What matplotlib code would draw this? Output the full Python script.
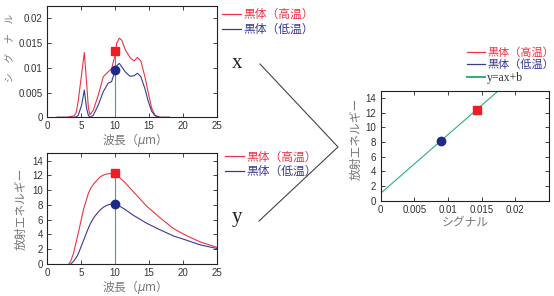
import matplotlib
matplotlib.use("Agg")
import matplotlib.pyplot as plt
from matplotlib.lines import Line2D

plt.rcParams["font.family"] = ["Liberation Sans", "Noto Sans CJK JP", "DejaVu Sans"]
plt.rcParams["axes.unicode_minus"] = False

RED = "#ee3344"
BLUE = "#3a3a95"
GREEN = "#2eae78"
MRED = "#ee1c24"
MBLUE = "#1c2a88"
GRAY = "#777777"

# シグナル (上段)
sig_wl = [1.5, 3.0, 4.0, 4.3, 4.6, 5.1, 5.49, 5.8, 6.08, 6.32, 6.8, 7.55, 8.28, 9.0, 9.5,
          10.0, 10.25, 10.64, 11.0, 11.5, 12.2, 12.8, 13.3, 13.8, 14.4, 14.9, 15.4, 15.9, 16.6, 18.0]
sig_high = [0.0, 0.0, 0.0003, 0.001, 0.0034, 0.0088, 0.0131, 0.0075, 0.002, 0.0005, 0.0014, 0.0045,
            0.0082, 0.0092, 0.0098, 0.0125, 0.015, 0.016, 0.0156, 0.0137, 0.0121, 0.0114, 0.0121,
            0.0114, 0.0082, 0.0049, 0.0018, 0.0004, 0.0, 0.0]
sig_low = [0.0, 0.0, 0.0, 0.0001, 0.0004, 0.0025, 0.0055, 0.002, 0.0004, 0.0, 0.0004, 0.0025,
           0.0052, 0.0069, 0.0072, 0.0094, 0.0104, 0.0109, 0.0102, 0.0092, 0.0083, 0.0084, 0.0089,
           0.0082, 0.0058, 0.0032, 0.0012, 0.0003, 0.0, 0.0]

# 放射エネルギー (下段)
rad_wl = [3.2, 3.5, 3.9, 4.4, 4.7, 5.4, 6.1, 6.4, 6.9, 7.4, 7.8, 8.3, 8.8, 9.3, 10.0,
          11.3, 12.7, 14.7, 16.7, 18.6, 20.6, 22.5, 25.0]
rad_high = [0.0, 0.4, 1.45, 3.4, 4.6, 7.5, 9.6, 10.2, 10.9, 11.4, 11.8, 12.05, 12.2, 12.25, 12.25,
            11.2, 9.8, 7.8, 6.2, 4.8, 3.8, 3.0, 2.26]
rad_low = [None, 0.0, 0.35, 1.0, 1.6, 3.25, 4.9, 5.5, 6.3, 6.9, 7.3, 7.7, 7.95, 8.1, 8.2,
           7.5, 6.6, 5.5, 4.6, 3.8, 3.2, 2.6, 2.1]

pick_wl = 10.0
pick_sig = [0.0134, 0.0095]   # 高温, 低温
pick_rad = [12.3, 8.15]

# 校正 (右)
cal_sig = [0.0143, 0.0090]
cal_rad = [12.4, 8.1]
fit_x = [0.0, 0.0175]
fit_y = [1.0, 15.0]

LBL_HIGH = "黒体（高温）"
LBL_LOW = "黒体（低温）"
JP = ["Noto Sans CJK JP", "DejaVu Sans"]


def style(ax):
    ax.tick_params(direction="in", top=True, right=True, length=3, width=0.6,
                   labelsize=7, colors="#222222", labelcolor="#333333", pad=3)
    for s in ax.spines.values():
        s.set_linewidth(0.8)
        s.set_color("#222222")


def legend(handles, labels, colors, x, y, size=8.5):
    leg = fig.legend(handles, labels, loc="upper left", bbox_to_anchor=(x, y),
                     bbox_transform=fig.transFigure, frameon=False,
                     handlelength=1.6, handletextpad=0.2, labelspacing=0.15,
                     borderaxespad=0, borderpad=0,
                     prop={"family": ["Noto Sans CJK JP"], "size": size})
    for t, c in zip(leg.get_texts(), colors):
        t.set_color(c)
    return leg


fig = plt.figure(figsize=(5.54, 2.96), dpi=100)

# 上段: シグナル
ax1 = fig.add_axes([0.0848, 0.6037, 0.3069, 0.376])
ax1.plot(sig_wl, sig_high, color=RED, lw=0.8)
ax1.plot(sig_wl, sig_low, color=BLUE, lw=0.8)
ax1.plot([pick_wl, pick_wl], [0, pick_sig[0]], color=GREEN, lw=0.8)
ax1.plot(pick_wl, pick_sig[0], "s", color=MRED, ms=6)
ax1.plot(pick_wl, pick_sig[1], "o", color=MBLUE, ms=6)
ax1.set_xlim(0, 25)
ax1.set_ylim(0, 0.0225)
ax1.set_xticks([0, 5, 10, 15, 20, 25])
ax1.set_yticks([0, 0.005, 0.01, 0.015, 0.02])
ax1.set_yticklabels(["0", "0.005", "0.01", "0.015", "0.02"])
ax1.set_xlabel("波長（$\\mu$m）", fontsize=8.5, color=GRAY, labelpad=0, family=JP)
ax1.set_ylabel("シ　グ　ナ　ル", fontsize=7, color=GRAY, family=JP)
ax1.yaxis.set_label_coords(-0.195, 0.62)
style(ax1)

# 下段: 放射エネルギー
ax2 = fig.add_axes([0.0848, 0.1081, 0.3069, 0.374])
ax2.plot(rad_wl, rad_high, color=RED, lw=0.8)
ax2.plot(rad_wl[1:], rad_low[1:], color=BLUE, lw=0.8)
ax2.plot([pick_wl, pick_wl], [0, pick_rad[0]], color=GREEN, lw=0.8)
ax2.plot(pick_wl, pick_rad[0], "s", color=MRED, ms=6)
ax2.plot(pick_wl, pick_rad[1], "o", color=MBLUE, ms=6)
ax2.set_xlim(0, 25)
ax2.set_ylim(0, 15)
ax2.set_xticks([0, 5, 10, 15, 20, 25])
ax2.set_yticks(range(0, 15, 2))
ax2.set_xlabel("波長（$\\mu$m）", fontsize=8.5, color=GRAY, labelpad=0, family=JP)
ax2.set_ylabel("放射エネルギー", fontsize=8.5, color=GRAY, labelpad=3, family=JP)
style(ax2)

# 右: 校正
ax3 = fig.add_axes([0.687, 0.322, 0.3038, 0.3716])
ax3.plot(fit_x, fit_y, color=GREEN, lw=0.8)
ax3.plot(cal_sig[0], cal_rad[0], "s", color=MRED, ms=6)
ax3.plot(cal_sig[1], cal_rad[1], "o", color=MBLUE, ms=6)
ax3.set_xlim(0, 0.025)
ax3.set_ylim(0, 15)
ax3.set_xticks([0, 0.005, 0.01, 0.015, 0.02])
ax3.set_xticklabels(["0", "0.005", "0.01", "0.015", "0.02"])
ax3.set_yticks(range(0, 15, 2))
ax3.set_xlabel("シグナル", fontsize=8.5, color=GRAY, labelpad=1, family=JP)
ax3.set_ylabel("放射エネルギー", fontsize=8.5, color=GRAY, family=JP)
ax3.yaxis.set_label_coords(-0.105, 0.56)
style(ax3)

# 凡例
h_red = Line2D([], [], color=RED, lw=0.9)
h_blue = Line2D([], [], color=BLUE, lw=0.9)
h_green = Line2D([], [], color=GREEN, lw=1.4)
legend([h_red, h_blue], [LBL_HIGH, LBL_LOW], [RED, BLUE], 0.401, 0.972)
legend([h_red, h_blue], [LBL_HIGH, LBL_LOW], [RED, BLUE], 0.406, 0.492)
leg3 = legend([h_red, h_blue, h_green], [LBL_HIGH, LBL_LOW, "y=ax+b"],
              [RED, BLUE, "#333333"], 0.843, 0.842, size=8)
leg3.get_texts()[2].set_family(["Liberation Serif"])
leg3.get_texts()[2].set_fontsize(8.5)

# x, y と矢印
fig.text(0.428, 1 - 68 / 296, "x", fontsize=15, family="Liberation Serif", color="#222222",
         ha="center", va="baseline")
fig.text(0.428, 1 - 222 / 296, "y", fontsize=15, family="Liberation Serif", color="#222222",
         ha="center", va="baseline")
fig.add_artist(Line2D([260 / 554, 338 / 554, 259 / 554],
                      [1 - 64 / 296, 1 - 147 / 296, 1 - 221 / 296],
                      color="#444444", lw=0.8, transform=fig.transFigure))

fig.savefig("out.png", dpi=100)
